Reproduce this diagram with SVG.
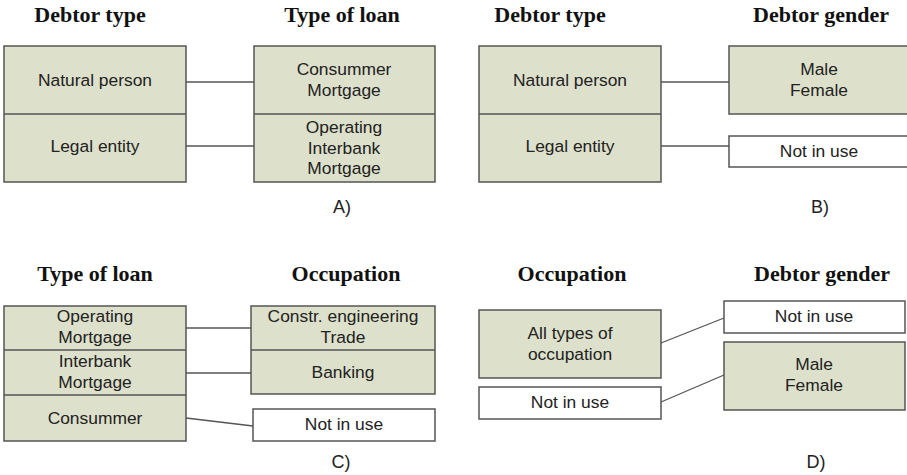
<svg xmlns="http://www.w3.org/2000/svg" width="907" height="475" viewBox="0 0 907 475">
  <style>
    .bg { fill: #ffffff; }
    .box { fill: #dde0cb; stroke: #555555; stroke-width: 1.5; }
    .empty { fill: #ffffff; stroke: #555555; stroke-width: 1.5; }
    .div { stroke: #555555; stroke-width: 1.5; fill: none; }
    .link { stroke: #555555; stroke-width: 1.3; fill: none; }
    .title { font-family: "Liberation Serif", "Times New Roman", serif; font-weight: bold; font-size: 22px; fill: #111111; text-anchor: middle; }
    .lbl { font-family: "Liberation Sans", Arial, sans-serif; font-size: 17.4px; fill: #222222; text-anchor: middle; }
    .tag { font-family: "Liberation Sans", Arial, sans-serif; font-size: 18px; fill: #222222; text-anchor: middle; }
  </style>
  <rect class="bg" x="0" y="0" width="907" height="475"/>

  <!-- Panel A -->
  <g id="panelA">
    <text class="title" x="90" y="22">Debtor type</text>
    <text class="title" x="342" y="22">Type of loan</text>
    <g id="a-debtor-type">
      <rect class="box" x="4" y="46" width="182" height="136"/>
      <line class="div" x1="4" y1="114" x2="186" y2="114"/>
      <text class="lbl" x="95" y="86">Natural person</text>
      <text class="lbl" x="95" y="152">Legal entity</text>
    </g>
    <g id="a-loan-type">
      <rect class="box" x="254" y="46" width="181" height="136"/>
      <line class="div" x1="254" y1="114" x2="435" y2="114"/>
      <text class="lbl" x="344" y="75">Consummer</text>
      <text class="lbl" x="344" y="96">Mortgage</text>
      <text class="lbl" x="344" y="133">Operating</text>
      <text class="lbl" x="344" y="153.5">Interbank</text>
      <text class="lbl" x="344" y="174">Mortgage</text>
    </g>
    <g id="a-links">
      <line class="link" x1="186" y1="82" x2="254" y2="82"/>
      <line class="link" x1="186" y1="146" x2="254" y2="146"/>
    </g>
    <text class="tag" x="342" y="213">A)</text>
  </g>

  <!-- Panel B -->
  <g id="panelB">
    <text class="title" x="550" y="22">Debtor type</text>
    <text class="title" x="821" y="22">Debtor gender</text>
    <g id="b-debtor-type">
      <rect class="box" x="479" y="46" width="182" height="136"/>
      <line class="div" x1="479" y1="114" x2="661" y2="114"/>
      <text class="lbl" x="570" y="86">Natural person</text>
      <text class="lbl" x="570" y="152">Legal entity</text>
    </g>
    <g id="b-gender">
      <rect class="box" x="729" y="46" width="182" height="68"/>
      <text class="lbl" x="819" y="75">Male</text>
      <text class="lbl" x="819" y="96">Female</text>
    </g>
    <g id="b-unused">
      <rect class="empty" x="729" y="136" width="182" height="31"/>
      <text class="lbl" x="819" y="157">Not in use</text>
    </g>
    <g id="b-links">
      <line class="link" x1="661" y1="82" x2="729" y2="82"/>
      <line class="link" x1="661" y1="146" x2="729" y2="146"/>
    </g>
    <text class="tag" x="820" y="213">B)</text>
  </g>

  <!-- Panel C -->
  <g id="panelC">
    <text class="title" x="95" y="281">Type of loan</text>
    <text class="title" x="346" y="281">Occupation</text>
    <g id="c-loan-type">
      <rect class="box" x="4" y="306" width="182" height="135"/>
      <line class="div" x1="4" y1="350" x2="186" y2="350"/>
      <line class="div" x1="4" y1="395" x2="186" y2="395"/>
      <text class="lbl" x="95" y="322">Operating</text>
      <text class="lbl" x="95" y="343">Mortgage</text>
      <text class="lbl" x="95" y="367">Interbank</text>
      <text class="lbl" x="95" y="388">Mortgage</text>
      <text class="lbl" x="95" y="424">Consummer</text>
    </g>
    <g id="c-occupation">
      <rect class="box" x="251" y="306" width="184" height="88"/>
      <line class="div" x1="251" y1="350" x2="435" y2="350"/>
      <text class="lbl" x="343" y="322">Constr. engineering</text>
      <text class="lbl" x="343" y="343">Trade</text>
      <text class="lbl" x="343" y="378">Banking</text>
    </g>
    <g id="c-unused">
      <rect class="empty" x="253" y="409" width="182" height="32"/>
      <text class="lbl" x="344" y="430">Not in use</text>
    </g>
    <g id="c-links">
      <line class="link" x1="186" y1="328" x2="251" y2="328"/>
      <line class="link" x1="186" y1="373" x2="251" y2="373"/>
      <line class="link" x1="186" y1="418" x2="253" y2="426"/>
    </g>
    <text class="tag" x="341" y="468">C)</text>
  </g>

  <!-- Panel D -->
  <g id="panelD">
    <text class="title" x="572" y="281">Occupation</text>
    <text class="title" x="822" y="281">Debtor gender</text>
    <g id="d-occupation">
      <rect class="box" x="479" y="310" width="182" height="68"/>
      <text class="lbl" x="570" y="339">All types of</text>
      <text class="lbl" x="570" y="360">occupation</text>
    </g>
    <g id="d-occ-unused">
      <rect class="empty" x="479" y="387" width="182" height="32"/>
      <text class="lbl" x="570" y="408">Not in use</text>
    </g>
    <g id="d-gender-unused">
      <rect class="empty" x="724" y="301" width="181" height="32"/>
      <text class="lbl" x="814" y="322">Not in use</text>
    </g>
    <g id="d-gender">
      <rect class="box" x="724" y="342" width="181" height="68"/>
      <text class="lbl" x="814" y="370">Male</text>
      <text class="lbl" x="814" y="391">Female</text>
    </g>
    <g id="d-links">
      <line class="link" x1="661" y1="343" x2="724" y2="318"/>
      <line class="link" x1="661" y1="402" x2="724" y2="375"/>
    </g>
    <text class="tag" x="816" y="468">D)</text>
  </g>
</svg>
